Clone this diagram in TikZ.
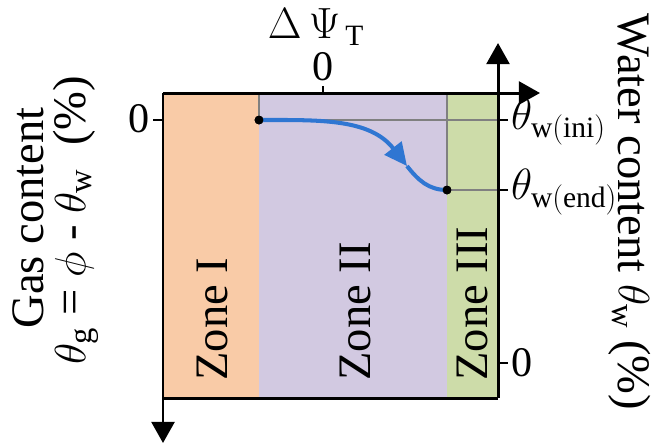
\documentclass[tikz,border=0pt]{standalone}
\usepackage{fontspec}
\setmainfont{Liberation Serif}
\usetikzlibrary{arrows.meta}

\definecolor{zoneone}{HTML}{F9CBA7}
\definecolor{zonetwo}{HTML}{D2C9E1}
\definecolor{zonethree}{HTML}{CDDCA9}
\definecolor{flowblue}{HTML}{2F76D2}

\begin{document}
\begin{tikzpicture}[x=0.02cm,y=-0.02cm,axis/.style={draw,line width=1.7pt},axtip/.style={-{Triangle[width=13pt,length=12pt]}},guide/.style={draw=black!50,line width=1.1pt},tick/.style={draw,line width=1.2pt},lbl/.style={font=\fontsize{24}{28}\selectfont,inner sep=1pt},title/.style={font=\fontsize{26.5}{30}\selectfont,inner sep=0pt},zonelbl/.style={rotate=90,anchor=west,inner sep=0pt,font=\fontsize{26.5}{30}\selectfont},dot/.style={circle,fill=black,inner sep=0pt,minimum size=5pt},flow/.style={draw=flowblue,line width=2.3pt}]
\useasboundingbox (0,0) rectangle (655,444);
\fill[zoneone] (163,93) rectangle (259,398);
\fill[zonetwo] (259,93) rectangle (447,398);
\fill[zonethree] (447,93) rectangle (498,398);
\coordinate (tl) at (163,93);
\coordinate (tr) at (498,93);
\coordinate (bl) at (163,398);
\coordinate (br) at (498,398);
\coordinate (topend) at (540,93);
\coordinate (rightend) at (498,43);
\coordinate (leftend) at (163,443);
\coordinate (topgap) at (259,93);
\coordinate (topzone) at (447,93);
\coordinate (iniright) at (498,120);
\coordinate (endright) at (498,190);
\coordinate (bend) at (407,166);
\node[dot] (start) at (259,120) {};
\node[dot] (finish) at (447,190) {};
\path[guide] (topgap) -- (start.center) -- (iniright);
\path[guide] (topzone) -- (finish.center) -- (endright);
\path[flow,-{Triangle[width=12pt,length=13pt]}] (start.center) to[out=0,in=128] (bend);
\path[flow] (bend) to[out=-52,in=180] (finish.center);
\node[dot] at (start) {};
\node[dot] at (finish) {};
\path[axis] (bl) -- (br);
\path[axis,axtip] (tl) -- (topend);
\path[axis,axtip] (br) -- (rightend);
\path[axis,axtip] (tl) -- (leftend);
% ticks
\path[tick] (323,93) -- (323,86);
\path[tick] (163,120) -- (153,120);
\path[tick] (498,120) -- (508,120);
\path[tick] (498,190) -- (508,190);
\path[tick] (498,363) -- (508,363);
\node[lbl] (topzero) at (323,67) {0};
\node[lbl] (dpsi) at (316,27) {$\Delta\,\Psi_{\,\mathrm{T}}$};
\node[lbl,anchor=east] (leftzero) at (152,119) {0};
\node[lbl,anchor=west] (thini) at (509,122) {$\theta_{\mathrm{w(ini)}}$};
\node[lbl,anchor=west] (thend) at (509,192) {$\theta_{\mathrm{w(end)}}$};
\node[lbl,anchor=west] (rightzero) at (509,363) {0};
\node[zonelbl] (zonei) at (212,381) {Zone I};
\node[zonelbl] (zoneii) at (355,381) {Zone II};
\node[zonelbl] (zoneiii) at (472,381) {Zone III};
\node[title,rotate=90] (gas) at (28,218) {Gas content};
\node[title,rotate=90] (gasdef) at (76,220) {$\theta_{\mathrm{g}}$ = $\phi$ - $\theta_{\mathrm{w}}$\ \ (\%)};
\node[title,rotate=-90] (water) at (630,212) {Water content $\theta_{\mathrm{w}}$ (\%)};
\end{tikzpicture}
\end{document}
